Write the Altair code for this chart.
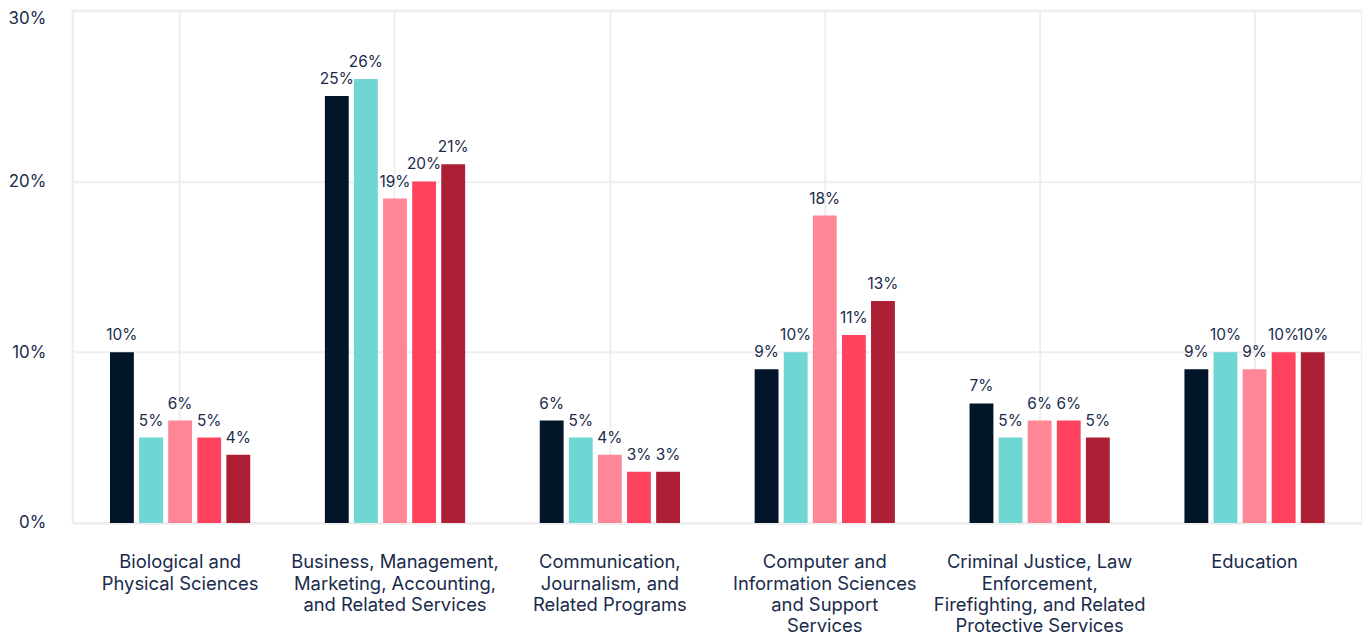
import altair as alt
import pandas as pd
import json

categories = [
    "Biological and Physical Sciences",
    "Business, Management, Marketing, Accounting, and Related Services",
    "Communication, Journalism, and Related Programs",
    "Computer and Information Sciences and Support Services",
    "Criminal Justice, Law Enforcement, Firefighting, and Related Protective Services",
    "Education",
]
category_lines = [
    ["Biological and", "Physical Sciences"],
    ["Business, Management,", "Marketing, Accounting,", "and Related Services"],
    ["Communication,", "Journalism, and", "Related Programs"],
    ["Computer and", "Information Sciences", "and Support", "Services"],
    ["Criminal Justice, Law", "Enforcement,", "Firefighting, and Related", "Protective Services"],
    ["Education"],
]
series = ["Series 1", "Series 2", "Series 3", "Series 4", "Series 5"]
colors = ["#021529", "#6fd6d4", "#ff8696", "#ff425e", "#ad1f35"]

s1 = [10, 25, 6, 9, 7, 9]
s2 = [5, 26, 5, 10, 5, 10]
s3 = [6, 19, 4, 18, 6, 9]
s4 = [5, 20, 3, 11, 6, 10]
s5 = [4, 21, 3, 13, 5, 10]
values = [s1, s2, s3, s4, s5]

rows = []
for si, name in enumerate(series):
    for ci, cat in enumerate(categories):
        rows.append({"category": cat, "series": name, "value": values[si][ci]})
df = pd.DataFrame(rows)

text_color = "#1a2b4b"
grid_color = "#eeeeee"

label_expr = "{}[indexof({}, datum.value)]".format(
    json.dumps(category_lines), json.dumps(categories)
)

x = alt.X(
    "category:N",
    sort=categories,
    title=None,
    scale=alt.Scale(paddingInner=0.212, paddingOuter=0.106),
    axis=alt.Axis(
        labelAngle=0,
        labelExpr=label_expr,
        labelFont="Inter",
        labelFontSize=18.5,
        labelColor=text_color,
        labelLineHeight=21.5,
        labelBaseline="top",
        labelPadding=30,
        ticks=False,
        grid=True,
        gridColor=grid_color,
        gridWidth=2,
        bandPosition=0.5,
        domainColor=grid_color,
        domainWidth=2,
        labelLimit=300,
    ),
)
y = alt.Y(
    "value:Q",
    title=None,
    scale=alt.Scale(domain=[0, 30]),
    axis=alt.Axis(
        values=[0, 10, 20, 30],
        labelExpr="datum.value + '%'",
        labelFont="Inter",
        labelFontSize=17,
        labelColor=text_color,
        labelPadding=27,
        labelBaseline=alt.expr("datum.value >= 30 ? 'top' : 'middle'"),
        ticks=False,
        grid=True,
        gridColor=grid_color,
        gridWidth=2,
        domainColor=grid_color,
        domainWidth=2,
    ),
)
xoff = alt.XOffset(
    "series:N",
    sort=series,
    scale=alt.Scale(paddingInner=0.18, paddingOuter=0.5),
)
color = alt.Color(
    "series:N",
    sort=series,
    scale=alt.Scale(domain=series, range=colors),
    legend=None,
)

base = alt.Chart(df).encode(x=x, y=y, xOffset=xoff)
bars = base.mark_bar().encode(color=color)
labels = (
    base.transform_calculate(lbl="format(datum.value, '.0f') + '%'")
    .mark_text(font="Inter", fontSize=15.5, color=text_color, baseline="alphabetic", dy=-12)
    .encode(text="lbl:N")
)

chart = (
    alt.layer(bars, labels)
    .properties(width=1296, height=515, padding={"left": 0, "top": 0, "right": 0, "bottom": 0})
    .configure_view(stroke=grid_color, strokeWidth=2)
)
chart.save("out.html", embed_options={"renderer": "svg", "actions": False})
